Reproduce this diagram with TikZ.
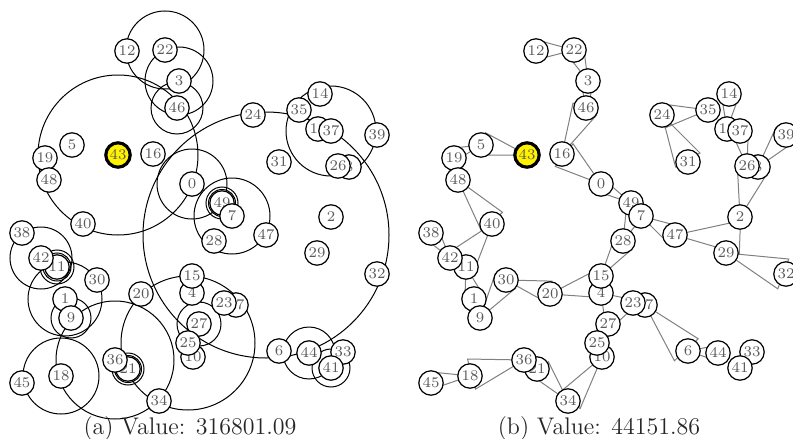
\documentclass[tikz,border=0pt]{standalone}
\usepackage{tikz}
\usetikzlibrary{calc}

% device positions (x/y in pixels, y down), listed in drawing order
\def\devs{0/192/184, 1/65/299, 2/331/217, 3/179/81, 4/192/293, 5/72/145,
  6/279/351, 49/222/203, 7/232/216, 8/349/167, 9/71/318, 10/193/357,
  11/57/267, 12/127/51, 13/318/129, 14/320/94, 15/192/276, 16/153/154,
  17/236/305, 18/61/376, 19/45/158, 20/141/294, 21/128/369, 22/165/50,
  23/224/303, 24/253/115, 27/199/324, 25/188/343, 26/338/166, 28/214/241,
  29/317/253, 30/97/280, 31/279/162, 32/377/274, 33/343/352, 34/159/401,
  35/299/110, 36/115/360, 37/331/131, 38/22/233, 39/377/135, 40/83/224,
  44/309/353, 41/331/368, 42/41/258, 43/118/155, 45/22/383, 46/177/108,
  47/266/235, 48/49/180}

\begin{document}
\begin{tikzpicture}[x=0.5pt, y=-0.5pt]
% Define styles for devices, reach circles, beams and captions
\tikzstyle{dev} = [draw, fill=white, circle, minimum size=12.2pt, inner sep=0pt, line width=0.6pt, text=black!65, font=\fontsize{7.4}{8}\selectfont]
\tikzstyle{src} = [dev, fill=yellow, line width=1.6pt]
\tikzstyle{reach} = [draw, line width=0.5pt]
\tikzstyle{beam} = [draw=gray, line width=0.5pt]
\tikzstyle{captext} = [anchor=base, text=black!85, font=\fontsize{12}{14}\selectfont]

\useasboundingbox (0,0) rectangle (793,439);
\clip (0,0) rectangle (793,439);

% (a) omnidirectional reach
\begin{scope}[name prefix=a-]
  \foreach \i/\px/\py in \devs {\coordinate (n\i) at (\px,\py);}

  \foreach \c/\r in {43/80, 22/39, 3/34, 46/26, 0/35, 47/123, 37/45, 7/38,
      42/31, 1/37, 9/20, 18/38, 36/59, 25/67, 27/22, 44/26, 41/19,
      49/16, 49/13.5, 11/17, 11/14, 21/16, 21/13.5}
    \draw[reach] (n\c) circle (\r);

  \foreach \i/\px/\py in \devs {
    \ifnum\i=43 \node[src] (d\i) at (n\i) {\i};
    \else \node[dev] (d\i) at (n\i) {\i}; \fi
  }
  \node[captext] (cap) at (190,434) {(a) Value: 316801.09};
\end{scope}

% (b) directional beams: apex / first edge / second edge / length
\begin{scope}[xshift=204.5pt, name prefix=b-]
  \foreach \i/\px/\py in \devs {\coordinate (n\i) at (\px,\py);}

  \foreach \a/\p/\q/\l in {22/165.5/195/38, 3/231.7/262.6/34, 46/259/289/27,
      16/282.2/311.6/52, 0/201/235.2/49, 49/199/221/36, 28/276/309/39,
      7/15/45/39.5, 47/-12.3/16.3/67, 2/267/302/52, 8/294.4/325.4/43,
      26/245.2/272/35.7, 13/260.5/290/35, 35/157.4/187.5/46.4,
      24/45/75.4/53.7, 43/180/208.2/47, 5/148/173.7/30, 48/36/65.3/55,
      40/111/146.7/55, 42/217.8/247.8/31, 11/58.7/92/33, 9/289/320/46.6,
      30/1.4/29/46, 20/-27.5/4/54.4, 15/289.5/319/41.3, 4/12/82/40,
      17/32.4/62.2/63, 6/-11/19/30, 10/113/140/56, 34/215/243.4/44,
      36/149/181/56.5, 18/161/186/39, 29/5.5/34.7/63}
    \draw[beam] (n\a) -- +(\p:\l) -- +(\q:\l) -- cycle;

  \foreach \i/\px/\py in \devs {
    \ifnum\i=43 \node[src] (d\i) at (n\i) {\i};
    \else \node[dev] (d\i) at (n\i) {\i}; \fi
  }
  \node[captext] (cap) at (190,434) {(b) Value: 44151.86};
\end{scope}

\end{tikzpicture}
\end{document}
